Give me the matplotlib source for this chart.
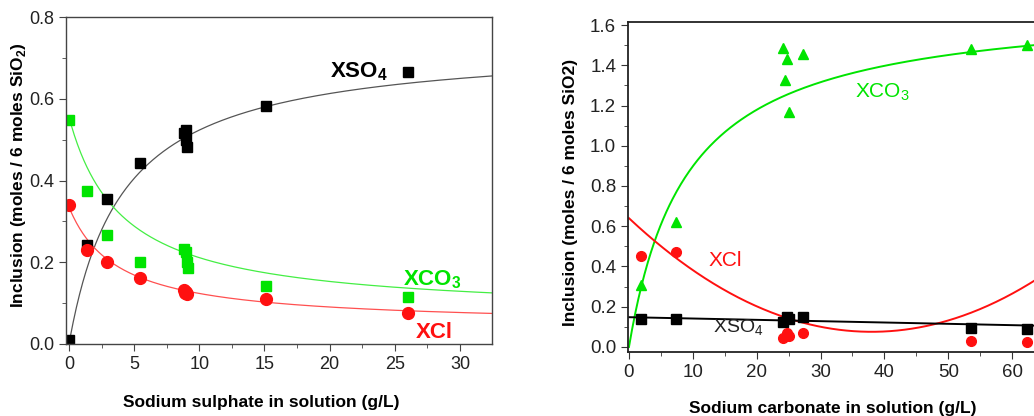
import numpy as np
import matplotlib.pyplot as plt

plt.rcParams['font.family'] = ['Liberation Sans', 'DejaVu Sans']
plt.rcParams['mathtext.fontset'] = 'custom'
plt.rcParams['mathtext.rm'] = 'Liberation Sans'
plt.rcParams['mathtext.bf'] = 'Liberation Sans:bold'

# ---- left panel: sodium sulphate series (g/L, moles / 6 moles SiO2)
sul_x_so4 = [0.0, 1.4, 2.9, 5.45, 8.8, 9.0, 9.0, 9.05, 15.1, 26.0]
sul_y_so4 = [0.01, 0.243, 0.354, 0.442, 0.515, 0.523, 0.50, 0.482, 0.582, 0.665]
sul_x_co3 = [0.0, 1.4, 2.9, 5.45, 8.8, 8.95, 9.05, 9.1, 15.1, 26.0]
sul_y_co3 = [0.548, 0.375, 0.266, 0.201, 0.232, 0.225, 0.20, 0.185, 0.142, 0.116]
sul_x_cl = [0.0, 1.4, 2.9, 5.45, 8.8, 8.9, 9.0, 9.05, 15.1, 26.0]
sul_y_cl = [0.34, 0.23, 0.20, 0.162, 0.132, 0.125, 0.128, 0.122, 0.11, 0.076]

# ---- right panel: sodium carbonate series
car_x_co3 = [1.9, 7.4, 24.2, 24.8, 24.5, 25.0, 27.2, 53.6, 62.4]
car_y_co3 = [0.31, 0.62, 1.486, 1.43, 1.325, 1.17, 1.458, 1.48, 1.50]
car_x_so4 = [1.9, 7.4, 24.1, 24.7, 25.0, 27.2, 53.6, 62.3]
car_y_so4 = [0.138, 0.141, 0.126, 0.148, 0.14, 0.151, 0.093, 0.088]
car_x_cl = [1.9, 7.4, 24.2, 24.7, 25.1, 27.2, 53.6, 62.4]
car_y_cl = [0.453, 0.474, 0.043, 0.071, 0.055, 0.068, 0.031, 0.026]

# ---- fitted trend lines, parameters
# hyperbolic:  y = y0 + a*x/(b+x)
sul_fit_so4 = (0.0, 0.739, 4.12)
sul_fit_co3 = (0.555, -0.484, 4.08)
sul_fit_cl = (0.335, -0.29, 3.72)
car_fit_co3 = (0.0, 1.715, 9.1)
# polynomial coefficients (highest power first)
car_fit_cl = [0.000391, -0.029716, 0.640]
car_fit_so4 = [-0.00066, 0.148]

GREEN = '#00e400'
RED = '#ff1010'


def hyperbola(t, p):
    y0, a, b = p
    return y0 + a * t / (b + t)


fig = plt.figure(figsize=(10.34, 4.16), dpi=100)

# ================= left panel
ax1 = fig.add_axes([66 / 1034, 72 / 416, 426 / 1034, 327 / 416])
xs = np.linspace(0, 32.5, 400)
ax1.plot(xs, hyperbola(xs, sul_fit_so4), color='#555555', lw=0.9)
ax1.plot(xs, hyperbola(xs, sul_fit_co3), color='#44ee44', lw=0.9)
ax1.plot(xs, hyperbola(xs, sul_fit_cl), color='#ff5050', lw=0.9)
ax1.plot(sul_x_so4, sul_y_so4, 's', color='black', ms=7.5, ls='none')
ax1.plot(sul_x_co3, sul_y_co3, 's', color=GREEN, ms=7.5, ls='none')
ax1.plot(sul_x_cl, sul_y_cl, 'o', color=RED, ms=8.5, ls='none')

ax1.text(20.0, 0.653, r'XSO$_\mathbf{4}$', fontsize=16, fontweight='bold', color='black')
ax1.text(25.6, 0.144, r'XCO$_\mathbf{3}$', fontsize=16, fontweight='bold', color=GREEN)
ax1.text(26.6, 0.015, 'XCl', fontsize=16, fontweight='bold', color=RED)

ax1.set_xlim(-0.23, 32.46)
ax1.set_ylim(0, 0.8)
ax1.set_xticks([0, 5, 10, 15, 20, 25, 30])
ax1.set_xticks(np.arange(2.5, 32.5, 5), minor=True)
ax1.set_yticks([0.0, 0.2, 0.4, 0.6, 0.8])
ax1.set_yticks([0.1, 0.3, 0.5, 0.7], minor=True)
ax1.set_yticklabels(['0.0', '0.2', '0.4', '0.6', '0.8'])
for s in ax1.spines.values():
    s.set_color('#444444')
    s.set_linewidth(1.0)
ax1.tick_params(which='both', direction='out', colors='#444444', labelcolor='#222222',
                labelsize=13)
ax1.tick_params(which='major', length=5)
ax1.tick_params(which='minor', length=3)

fig.text(19 / 1034, 0.579, r'Inclusion (moles / 6 moles SiO$_\mathbf{2}$)', rotation=90,
         ha='center', va='center', fontsize=12.5, fontweight='bold')
fig.text(261 / 1034, (416 - 402) / 416, 'Sodium sulphate in solution (g/L)',
         ha='center', va='center', fontsize=12.5, fontweight='bold')

# ================= right panel
ax2 = fig.add_axes([628 / 1034, 64 / 416, 416 / 1034, 330 / 416])
xs2 = np.linspace(0, 65, 400)
ax2.plot(xs2, hyperbola(xs2, car_fit_co3), color=GREEN, lw=1.4)
ax2.plot(xs2, np.polyval(car_fit_cl, xs2), color=RED, lw=1.4)
ax2.plot(xs2, np.polyval(car_fit_so4, xs2), color='black', lw=1.4)
ax2.plot(car_x_co3, car_y_co3, '^', color=GREEN, ms=7.5, ls='none')
ax2.plot(car_x_so4, car_y_so4, 's', color='black', ms=6.5, ls='none')
ax2.plot(car_x_cl, car_y_cl, 'o', color=RED, ms=7, ls='none')

ax2.text(35.4, 1.24, r'XCO$_3$', fontsize=15, color=GREEN)
ax2.text(12.5, 0.40, 'XCl', fontsize=15, color=RED)
ax2.text(13.2, 0.07, r'XSO$_4$', fontsize=14, color='#222222')

ax2.set_xlim(-0.15, 65)
ax2.set_ylim(-0.025, 1.615)
ax2.set_xticks([0, 10, 20, 30, 40, 50, 60])
ax2.set_xticks(np.arange(5, 65, 10), minor=True)
ax2.set_yticks(np.arange(0, 1.61, 0.2))
ax2.set_yticks(np.arange(0.1, 1.6, 0.2), minor=True)
ax2.set_yticklabels(['%.1f' % v for v in np.arange(0, 1.61, 0.2)])
for s in ax2.spines.values():
    s.set_color('#222222')
    s.set_linewidth(1.3)
ax2.tick_params(which='both', direction='out', colors='#333333', labelcolor='#222222',
                labelsize=13.5)
ax2.tick_params(which='major', length=5)
ax2.tick_params(which='minor', length=3)

fig.text(570 / 1034, 0.538, 'Inclusion (moles / 6 moles SiO2)', rotation=90,
         ha='center', va='center', fontsize=12.5, fontweight='bold')
fig.text(833 / 1034, (416 - 408) / 416, 'Sodium carbonate in solution (g/L)',
         ha='center', va='center', fontsize=12.5, fontweight='bold')

fig.savefig('out.png', dpi=100)
